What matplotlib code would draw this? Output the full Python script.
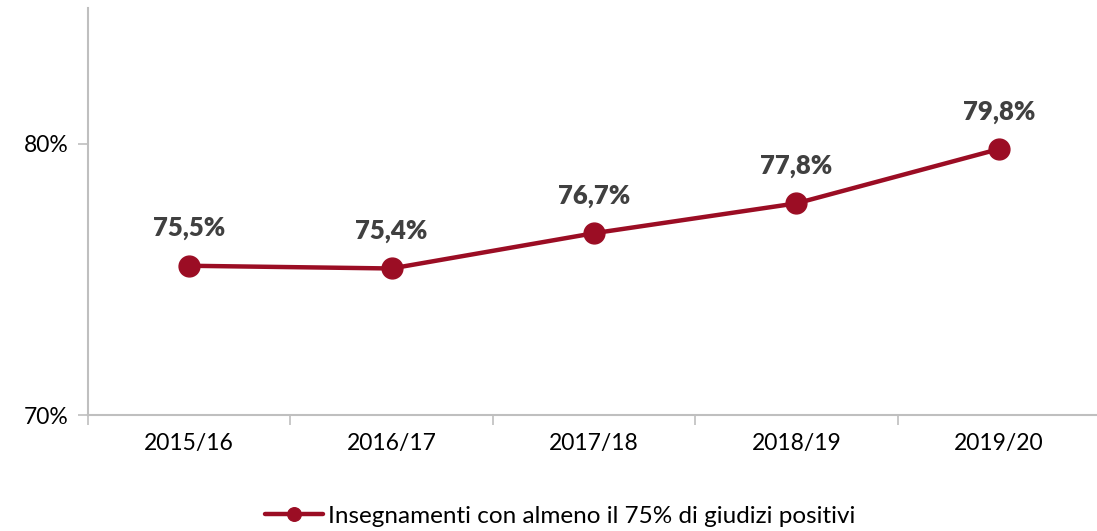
import matplotlib
matplotlib.use("Agg")
import matplotlib.pyplot as plt
from matplotlib.ticker import FixedLocator

categories = ["2015/16", "2016/17", "2017/18", "2018/19", "2019/20"]
values = [75.5, 75.4, 76.7, 77.8, 79.8]
labels = ["75,5%", "75,4%", "76,7%", "77,8%", "79,8%"]
series_name = "Insegnamenti con almeno il 75% di giudizi positivi"

plt.rcParams['font.family'] = ['Lato', 'DejaVu Sans']

fig = plt.figure(figsize=(10.97, 5.31), dpi=100)
ax = fig.add_axes([88/1097, 1-415/531, (1100-88)/1097, (415-8)/531])

color = "#9B0D24"
x = list(range(len(categories)))
line, = ax.plot(x, values, color=color, lw=3.2, marker="o", markersize=15,
                label=series_name, solid_capstyle="round")

for xi, v, t in zip(x, values, labels):
    ax.annotate(t, (xi, v), xytext=(0, 27), textcoords="offset points",
                ha="center", va="center", fontsize=18.5, fontweight="heavy",
                color="#404040")

ax.set_xlim(-0.5, 4.5)
ax.set_ylim(70, 85)
ax.set_yticks([70, 80])
ax.set_yticklabels(["70%", "80%"])
ax.set_xticks(x)
ax.set_xticklabels(categories)
ax.xaxis.set_minor_locator(FixedLocator([-0.5, 0.5, 1.5, 2.5, 3.5, 4.5]))
ax.tick_params(axis="x", which="major", length=0, pad=13, labelsize=16.5, colors="black")
ax.tick_params(axis="x", which="minor", length=7, width=1.2, color="#BFBFBF")
ax.tick_params(axis="y", length=7, width=1.2, color="#BFBFBF", labelsize=16.5, pad=7)

for s in ["top", "right"]:
    ax.spines[s].set_visible(False)
for s in ["left", "bottom"]:
    ax.spines[s].set_color("#BFBFBF")
    ax.spines[s].set_linewidth(1.5)

fig.legend(handles=[line], loc="center", bbox_to_anchor=(560/1097, 1-516/531),
           frameon=False, fontsize=17.5, handlelength=2.4, handletextpad=0.2,
           markerscale=0.65, borderaxespad=0)

fig.savefig("out.png", dpi=100)
